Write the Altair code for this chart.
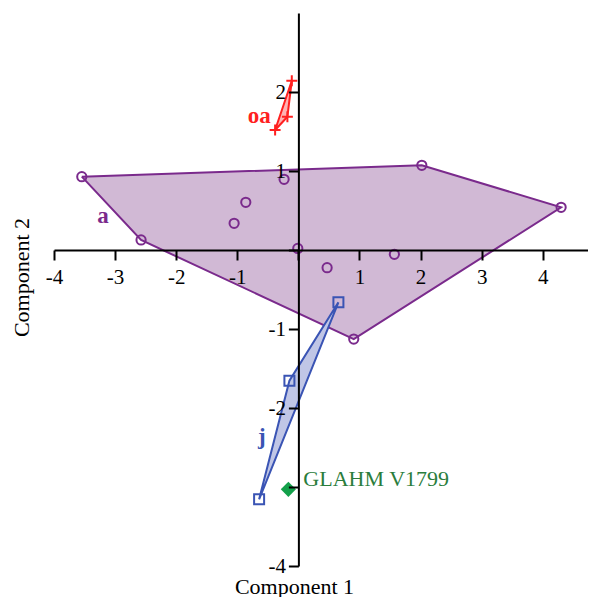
import altair as alt
import pandas as pd

# ---- data ----
a_x = [-3.545, -2.575, -1.052, -0.861, -0.234, -0.01, 2.02, 4.30, 1.571, 0.47, 0.906]
a_y = [0.928, 0.127, 0.338, 0.604, 0.895, 0.02, 1.072, 0.54, -0.054, -0.224, -1.127]
a_hull_x = [-3.545, 2.02, 4.30, 0.906, -2.575, -3.545]
a_hull_y = [0.928, 1.072, 0.54, -1.127, 0.127, 0.928]

oa_x = [-0.108, -0.18, -0.381]
oa_y = [2.143, 1.687, 1.519]
oa_hull_x = [-0.108, -0.18, -0.381, -0.108]
oa_hull_y = [2.143, 1.687, 1.519, 2.143]

j_x = [0.655, -0.147, -0.643]
j_y = [-0.662, -1.654, -3.156]
j_hull_x = [0.655, -0.147, -0.643, 0.655]
j_hull_y = [-0.662, -1.654, -3.156, -0.662]

spec_x = [-0.164]
spec_y = [-3.03]
spec_name = ["GLAHM V1799"]

grp_labels = ["oa", "a", "j"]
grp_label_x = [-0.64, -3.2, -0.6]
grp_label_y = [1.7, 0.43, -2.37]

x_ticks = [-4, -3, -2, -1, 0, 1, 2, 3, 4]
y_ticks = [-4, -3, -2, -1, 0, 1, 2]

PURPLE, PURPLE_FILL = "#7a2a8c", "#d1b9d5"
RED, RED_FILL = "#ff2020", "#ffb3b3"
BLUE, BLUE_FILL = "#3a54b4", "#c0c6e6"
GREEN, GREEN_TXT = "#13a04a", "#2a7d3c"
FONT = "Liberation Serif"

LEFT_PAD, TOP_PAD = 46, 5
W, H = 534, 553
X0, X1 = -4, 4.74
Y0, Y1 = -4, 3
x_zero_px = (0 - X0) / (X1 - X0) * W
y_zero_px = (Y1 - 0) / (Y1 - Y0) * H
page_x_zero = 8 + LEFT_PAD + x_zero_px
page_y_zero = 8 + TOP_PAD + y_zero_px

xs = alt.Scale(domain=[X0, X1], nice=False, zero=False)
ys = alt.Scale(domain=[Y0, Y1], nice=False, zero=False)

x_axis = alt.Axis(
    values=x_ticks, grid=False, offset=-(H - y_zero_px), zindex=1,
    domainColor="black", domainWidth=2, tickColor="black", tickWidth=2, tickSize=10,
    labelExpr="datum.value == 0 ? '' : '' + datum.value",
    labelFont=FONT, labelFontSize=21, labelColor="black", labelPadding=6,
    labelFlush=False, labelOverlap=False,
    title="Component 1", titleFont=FONT, titleFontSize=22, titleFontWeight="normal",
    titleColor="black", titleAnchor="start", titleAlign="center", titleBaseline="alphabetic",
    titleX=294 - 8 - LEFT_PAD, titleY=593 - page_y_zero,
)
y_axis = alt.Axis(
    values=y_ticks, grid=False, offset=-x_zero_px, zindex=1,
    domainColor="black", domainWidth=2, tickColor="black", tickWidth=2, tickSize=10,
    labelExpr="(datum.value == 0 || datum.value == -3) ? '' : '' + datum.value",
    labelFont=FONT, labelFontSize=21, labelColor="black", labelPadding=3,
    labelFlush=False, labelOverlap=False,
    title="Component 2", titleFont=FONT, titleFontSize=22, titleFontWeight="normal",
    titleColor="black", titleAngle=-90, titleAlign="center", titleBaseline="middle",
    titleX=21 - page_x_zero, titleY=277 - 8 - TOP_PAD,
)


def hull(hx, hy, stroke, fill):
    df = pd.DataFrame({"x": hx, "y": hy, "o": list(range(len(hx)))})
    return alt.Chart(df).mark_line(stroke=stroke, fill=fill, fillOpacity=1, strokeWidth=2).encode(
        x=alt.X("x:Q", scale=xs, axis=x_axis),
        y=alt.Y("y:Q", scale=ys, axis=y_axis),
        order="o:O",
    )


def pts(px, py, **kw):
    df = pd.DataFrame({"x": px, "y": py})
    return alt.Chart(df).mark_point(**kw).encode(
        x=alt.X("x:Q", scale=xs), y=alt.Y("y:Q", scale=ys)
    )


layers = [
    hull(a_hull_x, a_hull_y, PURPLE, PURPLE_FILL),
    hull(j_hull_x, j_hull_y, BLUE, BLUE_FILL),
    hull(oa_hull_x, oa_hull_y, RED, RED_FILL),
    pts(a_x, a_y, shape="circle", filled=False, stroke=PURPLE, strokeWidth=2, size=85, opacity=1),
    pts(j_x, j_y, shape="square", filled=False, stroke=BLUE, strokeWidth=2, size=100, opacity=1),
    pts(oa_x, oa_y, shape="M-1,0L1,0M0,-1L0,1", filled=False, stroke=RED, strokeWidth=2, size=120, opacity=1),
    pts(spec_x, spec_y, shape="diamond", filled=True, fill=GREEN, size=230, opacity=1, strokeWidth=0),
]

spec_df = pd.DataFrame({"x": spec_x, "y": spec_y, "t": spec_name})
layers.append(
    alt.Chart(spec_df).mark_text(align="left", baseline="middle", dx=15, dy=-10,
                                 font=FONT, fontSize=22, color=GREEN_TXT).encode(
        x=alt.X("x:Q", scale=xs), y=alt.Y("y:Q", scale=ys), text="t:N")
)

lab_df = pd.DataFrame({"x": grp_label_x, "y": grp_label_y, "t": grp_labels,
                       "c": [RED, PURPLE, BLUE]})
layers.append(
    alt.Chart(lab_df).mark_text(align="center", baseline="middle", font=FONT, fontSize=23,
                                fontWeight="bold").encode(
        x=alt.X("x:Q", scale=xs), y=alt.Y("y:Q", scale=ys), text="t:N",
        color=alt.Color("c:N", scale=None))
)

chart = alt.layer(*layers).properties(
    width=W, height=H,
    background="white",
    autosize=alt.AutoSizeParams(type="none"),
    padding={"left": LEFT_PAD, "top": TOP_PAD, "right": 0, "bottom": 31},
).configure_view(strokeWidth=0, stroke="transparent")

chart.save("out.html", embed_options={"renderer": "svg", "actions": False})
